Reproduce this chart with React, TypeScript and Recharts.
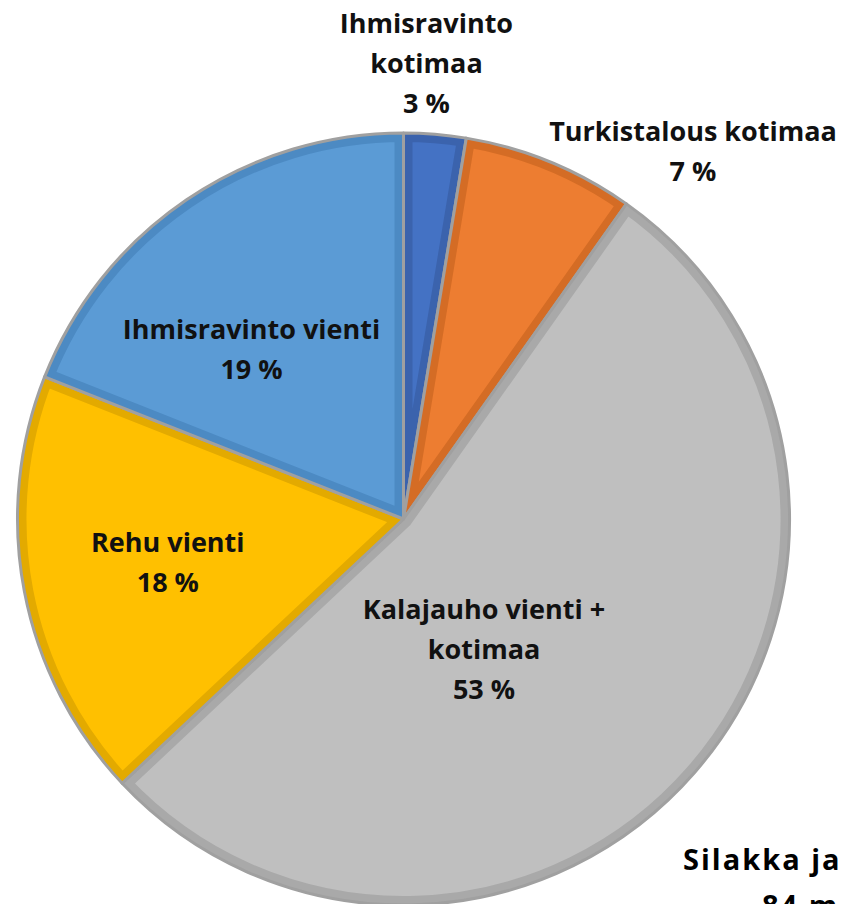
import { PieChart, Pie, Cell } from "recharts";

const names = [
  "Ihmisravinto kotimaa",
  "Turkistalous kotimaa",
  "Kalajauho vienti + kotimaa",
  "Rehu vienti",
  "Ihmisravinto vienti",
];
const values = [2.6, 7.2, 53.2, 18.0, 19.0];
const labelLines = [
  ["Ihmisravinto", "kotimaa"],
  ["Turkistalous kotimaa"],
  ["Kalajauho vienti +", "kotimaa"],
  ["Rehu vienti"],
  ["Ihmisravinto vienti"],
];
const titleLines = ["Silakka ja", "84 m"];

const data = names.map((name, i) => ({ name, value: values[i] }));

const fills = ["#4472C4", "#ED7D31", "#BFBFBF", "#FFC000", "#5B9BD5"];
const borders = ["#3B63AD", "#D46C25", "#A9A9A9", "#E3AA00", "#4C8AC3"];

// label placement: radius factor and angle shift (deg, clockwise) from the slice middle
const labelPlace = [
  { r: 1.185, shift: -1.8 },
  { r: 1.215, shift: 15.8 },
  { r: 0.394, shift: 17 },
  { r: 0.62, shift: 0.8 },
  { r: 0.593, shift: -7.4 },
];

const RAD = Math.PI / 180;
const FONT = "'Open Sans', sans-serif";

const sectorPath = (cx: number, cy: number, r: number, a0: number, a1: number) => {
  const x0 = cx + r * Math.cos(-a0 * RAD);
  const y0 = cy + r * Math.sin(-a0 * RAD);
  const x1 = cx + r * Math.cos(-a1 * RAD);
  const y1 = cy + r * Math.sin(-a1 * RAD);
  const large = Math.abs(a1 - a0) > 180 ? 1 : 0;
  const sweep = a1 < a0 ? 1 : 0;
  return `M${cx},${cy} L${x0},${y0} A${r},${r} 0 ${large} ${sweep} ${x1},${y1} Z`;
};

const SliceShape = (props: any) => {
  const { cx, cy, outerRadius, startAngle, endAngle, index } = props;
  const d = sectorPath(cx, cy, outerRadius, startAngle, endAngle);
  const id = `clip-slice-${index}`;
  return (
    <g>
      <defs>
        <clipPath id={id}>
          <path d={d} />
        </clipPath>
      </defs>
      <path
        d={d}
        fill={fills[index]}
        stroke={borders[index]}
        strokeWidth={18}
        strokeLinejoin="miter"
        clipPath={`url(#${id})`}
      />
      <path d={d} fill="none" stroke="#A0A0A0" strokeWidth={3} strokeLinejoin="round" />
    </g>
  );
};

const renderLabel = (props: any) => {
  const { cx, cy, outerRadius, midAngle, index, percent } = props;
  const place = labelPlace[index];
  const a = (midAngle - place.shift) * RAD;
  const r = outerRadius * place.r;
  const x = cx + r * Math.cos(-a);
  const y = cy + r * Math.sin(-a);
  const lines = [...labelLines[index], `${Math.round(percent * 100)} %`];
  const lh = 40;
  const top = y - ((lines.length - 1) * lh) / 2;
  return (
    <text
      x={x}
      y={top}
      textAnchor="middle"
      dominantBaseline="central"
      fontFamily={FONT}
      fontWeight={700}
      fontSize={27}
      fill="#111"
    >
      {lines.map((l, i) => (
        <tspan key={i} x={x} y={top + i * lh} dominantBaseline="central">
          {l}
        </tspan>
      ))}
    </text>
  );
};

export default function App() {
  return (
    <div style={{ position: "absolute", left: 0, top: 0, width: 841, height: 904, background: "#fff" }}>
      <PieChart width={841} height={904} margin={{ top: 0, right: 0, bottom: 0, left: 0 }}>
        <Pie
          data={data}
          dataKey="value"
          nameKey="name"
          cx={403.5}
          cy={519}
          outerRadius={386}
          startAngle={90}
          endAngle={-270}
          shape={SliceShape}
          label={renderLabel}
          labelLine={false}
          isAnimationActive={false}
        >
          {data.map((d, i) => (
            <Cell key={d.name} fill={fills[i]} />
          ))}
        </Pie>
        <text
          x={683}
          y={858}
          fontFamily={FONT}
          fontWeight={700}
          fontSize={29}
          letterSpacing={2}
          fill="#000"
          dominantBaseline="central"
        >
          {titleLines[0]}
        </text>
        <text
          x={762}
          y={904}
          fontFamily={FONT}
          fontWeight={700}
          fontSize={29}
          letterSpacing={2}
          fill="#000"
          dominantBaseline="central"
        >
          {titleLines[1]}
        </text>
      </PieChart>
    </div>
  );
}
